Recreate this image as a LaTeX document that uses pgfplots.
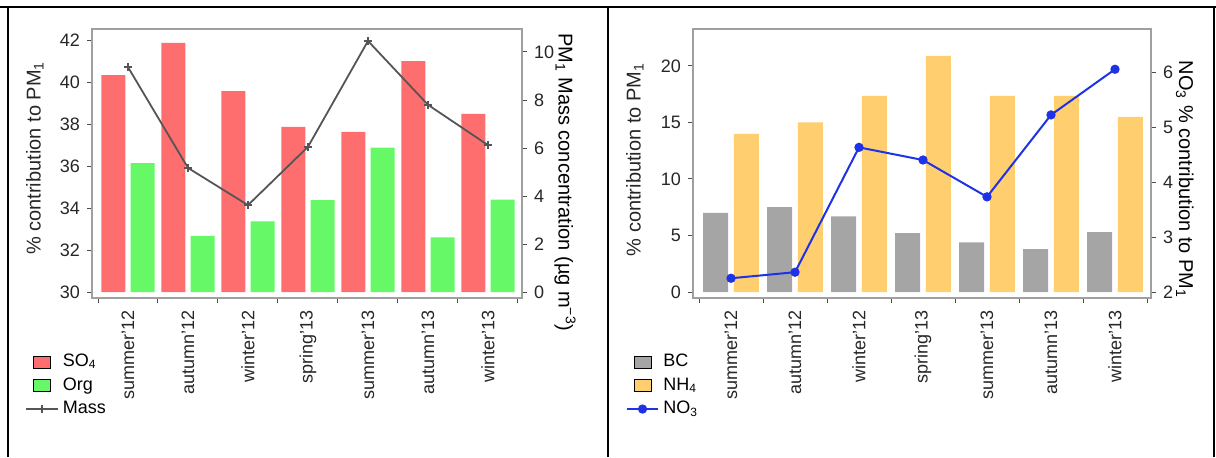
\documentclass[border=0pt]{standalone}
\usepackage{fontspec}
\setmainfont{Liberation Sans}
\usepackage{pgfplots}
\pgfplotsset{compat=1.18}

\definecolor{so4}{RGB}{255,110,110}
\definecolor{org}{RGB}{102,248,102}
\definecolor{bcgray}{RGB}{165,165,165}
\definecolor{nh4}{RGB}{255,206,110}
\definecolor{no3}{RGB}{30,50,230}
\definecolor{massgray}{RGB}{85,85,85}

\pgfplotsset{
  common/.style={
    scale only axis,
    /pgf/number format/assume math mode=true,
    tick label style={font=\fontsize{9}{10.8}\selectfont, text=black!85},
    label style={font=\fontsize{10}{12}\selectfont, text=black!85},
    tick align=outside,
    major tick length=2.5pt,
    minor tick length=2.5pt,
    axis line style={draw=gray!75, line width=0.8pt},
    tick style={black!70, line width=0.5pt},
  },
  sqlegend/.style={legend image code/.code={\draw[##1] (0.13cm,-0.105cm) rectangle (0.43cm,0.105cm);}},
  lnlegend/.style={legend image code/.code={\draw[mark repeat=2,mark phase=2,##1] plot coordinates {(0cm,0cm)(0.28cm,0cm)(0.56cm,0cm)};}},
  mylegend/.style={legend style={draw=none, fill=none, font=\fontsize{9}{10.8}\selectfont,
     row sep=0pt, cells={anchor=west}, inner sep=0pt}},
}

\begin{document}
\begin{tikzpicture}
\useasboundingbox (0,0) rectangle (608pt,228.5pt);
% frame
\draw[line width=1pt] (0,225pt) -- (608pt,225pt);
\draw[line width=1pt] (4pt,0) -- (4pt,225pt);
\draw[line width=1pt] (304pt,0) -- (304pt,225pt);
\draw[line width=1pt] (607pt,0) -- (607pt,225pt);

% ================= LEFT PANEL =================
\begin{axis}[common, at={(46pt,79.5pt)}, anchor=south west,
  width=215pt, height=134.5pt,
  xmin=-0.6, xmax=6.567, ymin=29.714, ymax=42.524,
  ytick={30,32,...,42}, ytick pos=left,
  xtick={0,...,6},
  xticklabels={summer'12,autumn'12,winter'12,spring'13,summer'13,autumn'13,winter'13},
  xtick pos=bottom,
  major x tick style={draw=none},
  minor xtick={-0.5,0.5,...,6.5},
  minor x tick style={black!70, line width=0.5pt},
  xticklabel style={rotate=90, anchor=east},
  ylabel={\% contribution to PM\textsubscript{1}},
  ylabel style={at={(axis description cs:-0.133,0.52)}, anchor=center},
]
\end{axis}
% bars (baseline 30)
\begin{axis}[common, at={(46pt,82.5pt)}, anchor=south west,
  width=215pt, height=131.5pt,
  xmin=-0.6, xmax=6.567, ymin=30, ymax=42.524, hide axis]
\addplot[ybar, bar width=0.4, bar shift=-0.245, fill=so4, draw=none]
  coordinates {(0,40.33) (1,41.86) (2,39.57) (3,37.86) (4,37.62) (5,41.0) (6,38.48)};
\addplot[ybar, bar width=0.4, bar shift=0.245, fill=org, draw=none]
  coordinates {(0,36.14) (1,32.67) (2,33.36) (3,34.38) (4,36.88) (5,32.6) (6,34.4)};
\end{axis}
% right axis, Mass
\begin{axis}[common, at={(46pt,79.5pt)}, anchor=south west,
  width=215pt, height=134.5pt,
  xmin=-0.6, xmax=6.567, ymin=-0.25, ymax=10.958,
  hide x axis, axis y line*=right,
  ytick={0,2,...,10},
  ylabel={PM\textsubscript{1} Mass concentration (µg m\textsuperscript{−3})},
  every axis y label/.style={at={(axis description cs:1.1,0.43)}, rotate=-90, anchor=center},
  mylegend,
  legend style={at={(axis description cs:-0.156,-0.193)}, anchor=north west},
]
\addlegendimage{sqlegend, fill=so4, draw=none}
\addlegendentry{SO\textsubscript{4}}
\addlegendimage{sqlegend, fill=org, draw=none}
\addlegendentry{Org}
\addplot[lnlegend, massgray, line width=0.9pt, mark=+, mark size=2pt]
  coordinates {(0,9.37) (1,5.17) (2,3.62) (3,6.05) (4,10.46) (5,7.8) (6,6.12)};
\addlegendentry{Mass}
\end{axis}

% ================= RIGHT PANEL =================
\begin{axis}[common, at={(346.5pt,79.5pt)}, anchor=south west,
  width=229pt, height=134.5pt,
  xmin=-0.594, xmax=6.5625, ymin=-0.531, ymax=23.27,
  ytick={0,5,...,20}, ytick pos=left,
  xtick={0,...,6},
  xticklabels={summer'12,autumn'12,winter'12,spring'13,summer'13,autumn'13,winter'13},
  xtick pos=bottom,
  major x tick style={draw=none},
  minor xtick={-0.5,0.5,...,6.5},
  minor x tick style={black!70, line width=0.5pt},
  xticklabel style={rotate=90, anchor=east},
  ylabel={\% contribution to PM\textsubscript{1}},
  ylabel style={at={(axis description cs:-0.127,0.515)}, anchor=center},
]
\addplot[ybar, bar width=0.39, bar shift=-0.24, fill=bcgray, draw=none]
  coordinates {(0,7.0) (1,7.5) (2,6.7) (3,5.2) (4,4.4) (5,3.8) (6,5.3)};
\addplot[ybar, bar width=0.39, bar shift=0.24, fill=nh4, draw=none]
  coordinates {(0,14.0) (1,15.0) (2,17.35) (3,20.9) (4,17.35) (5,17.35) (6,15.5)};
\end{axis}
\begin{axis}[common, at={(346.5pt,79.5pt)}, anchor=south west,
  width=229pt, height=134.5pt,
  xmin=-0.594, xmax=6.5625, ymin=1.891, ymax=6.782,
  hide x axis, axis y line*=right,
  ytick={2,3,...,6},
  ylabel={NO\textsubscript{3} \% contribution to PM\textsubscript{1}},
  every axis y label/.style={at={(axis description cs:1.074,0.44)}, rotate=-90, anchor=center},
  mylegend,
  legend style={at={(axis description cs:-0.148,-0.193)}, anchor=north west},
]
\addlegendimage{sqlegend, fill=bcgray, draw=none}
\addlegendentry{BC}
\addlegendimage{sqlegend, fill=nh4, draw=none}
\addlegendentry{NH\textsubscript{4}}
\addplot[lnlegend, no3, line width=1pt, mark=*, mark size=1.8pt]
  coordinates {(0,2.25) (1,2.36) (2,4.63) (3,4.4) (4,3.73) (5,5.22) (6,6.05)};
\addlegendentry{NO\textsubscript{3}}
\end{axis}
\end{tikzpicture}
\end{document}
